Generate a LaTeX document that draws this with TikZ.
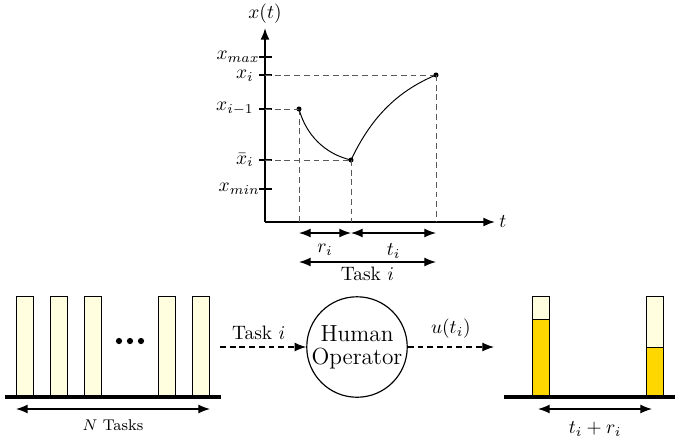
\documentclass[tikz,border=0pt]{standalone}
\usetikzlibrary{arrows.meta}
\definecolor{barlight}{RGB}{255,255,224}
\definecolor{bargold}{RGB}{255,215,0}
\begin{document}
\begin{tikzpicture}[x=0.515pt,y=-0.515pt,
  axisline/.style={line width=0.9pt,-{Latex[length=6pt,width=4.6pt]}},
  dimline/.style={line width=0.6pt,{Latex[length=6pt,width=4.6pt]}-{Latex[length=6pt,width=4.6pt]}},
  guide/.style={line width=0.5pt,gray!70!black,dash pattern=on 3pt off 2pt},
  flow/.style={line width=0.55pt,dash pattern=on 3pt off 2pt,-{Latex[length=6pt,width=4.6pt]}},
  curve/.style={line width=0.5pt},
  pt/.style={circle,fill,inner sep=0pt,minimum size=2.6pt},
  ticklbl/.style={anchor=east,inner sep=0pt},
  tbar/.style={draw,line width=0.5pt,fill=barlight},
  ground/.style={line width=1.6pt},
]
\useasboundingbox (0,0) rectangle (694,441);
% ---------- graph ----------
\coordinate (O) at (265,222);
\coordinate (ytop) at (265,28);
\coordinate (xend) at (495,222);
\draw[axisline] (O) -- (ytop);
\draw[axisline] (O) -- (xend);
\node at (265,14) {$x(t)$};
\node[anchor=west,inner sep=2pt] at (495,222) {$t$};
% ticks
\foreach \yy in {57,75,109,160,189}{
  \draw[line width=0.6pt] (259,\yy) -- (272,\yy);
}
\node[ticklbl] at (260,57) {$x_{max}$};
\node[ticklbl] at (254,76) {$x_i$};
\node[ticklbl] at (254,109) {$x_{i-1}$};
\node[ticklbl] at (254,160) {$\bar{x}_i$};
\node[ticklbl] at (260,189) {$x_{min}$};
% points
\node[pt] (p1) at (299,109) {};
\node[pt] (p2) at (351,160) {};
\node[pt] (p3) at (436,75) {};
\coordinate (b1) at (299,222);
\coordinate (b2) at (351,222);
\coordinate (b3) at (436,222);
\draw[guide] (265,109) -- (p1.center);
\draw[guide] (265,160) -- (p2.center);
\draw[guide] (265,75) -- (p3.center);
\draw[guide] (p1.center) -- (b1);
\draw[guide] (p2.center) -- (b2);
\draw[guide] (p3.center) -- (b3);
\draw[curve] (p1.center) .. controls (306,135) and (325,154) .. (p2.center);
\draw[curve] (p2.center) .. controls (370,120) and (395,92) .. (p3.center);
% dimension arrows
\coordinate (r0) at (299,233);
\coordinate (r1) at (351,233);
\coordinate (r2) at (436,233);
\draw[dimline] (r0) -- (r1) node[midway,below=2pt] {$r_i$};
\draw[dimline] (r1) -- (r2) node[midway,below=2pt] {$t_i$};
\coordinate (k0) at (299,262);
\coordinate (k1) at (436,262);
\draw[dimline] (k0) -- (k1) node[midway,below=-1pt] {Task $i$};
% ---------- task queue ----------
\foreach \xx in {16,50,84,158,192}{
  \draw[tbar] (\xx,296) rectangle ++(17,101);
}
\foreach \xx in {119,130,141}{ \fill (\xx,341) circle (1.6pt); }
\draw[ground] (5,397) -- (221,397);
\coordinate (n0) at (16,409);
\coordinate (n1) at (210,409);
\draw[dimline] (n0) -- (n1) node[midway,below=2pt] {\footnotesize $N$ Tasks};
% ---------- operator ----------
\node[circle,draw,line width=0.6pt,minimum size=50pt,inner sep=0pt,align=center,font=\large] (op) at (357,347) {Human\\[-2pt]Operator};
\coordinate (in) at (220,347);
\coordinate (out) at (494,347);
\draw[flow] (in) -- (op) node[pos=0.45,above=0pt] {Task $i$};
\draw[flow] (op) -- (out) node[midway,above=1pt] {$u(t_i)$};
% ---------- completed ----------
\draw[line width=0.5pt,fill=bargold] (532,319) rectangle (549,397);
\draw[line width=0.5pt,fill=barlight] (532,296) rectangle (549,319);
\draw[line width=0.5pt,fill=bargold] (646,347) rectangle (663,397);
\draw[line width=0.5pt,fill=barlight] (646,296) rectangle (663,347);
\draw[ground] (504,397) -- (675,397);
\coordinate (m0) at (538,409);
\coordinate (m1) at (652,409);
\draw[dimline] (m0) -- (m1) node[midway,below=3pt] {$t_i+r_i$};
\end{tikzpicture}
\end{document}
